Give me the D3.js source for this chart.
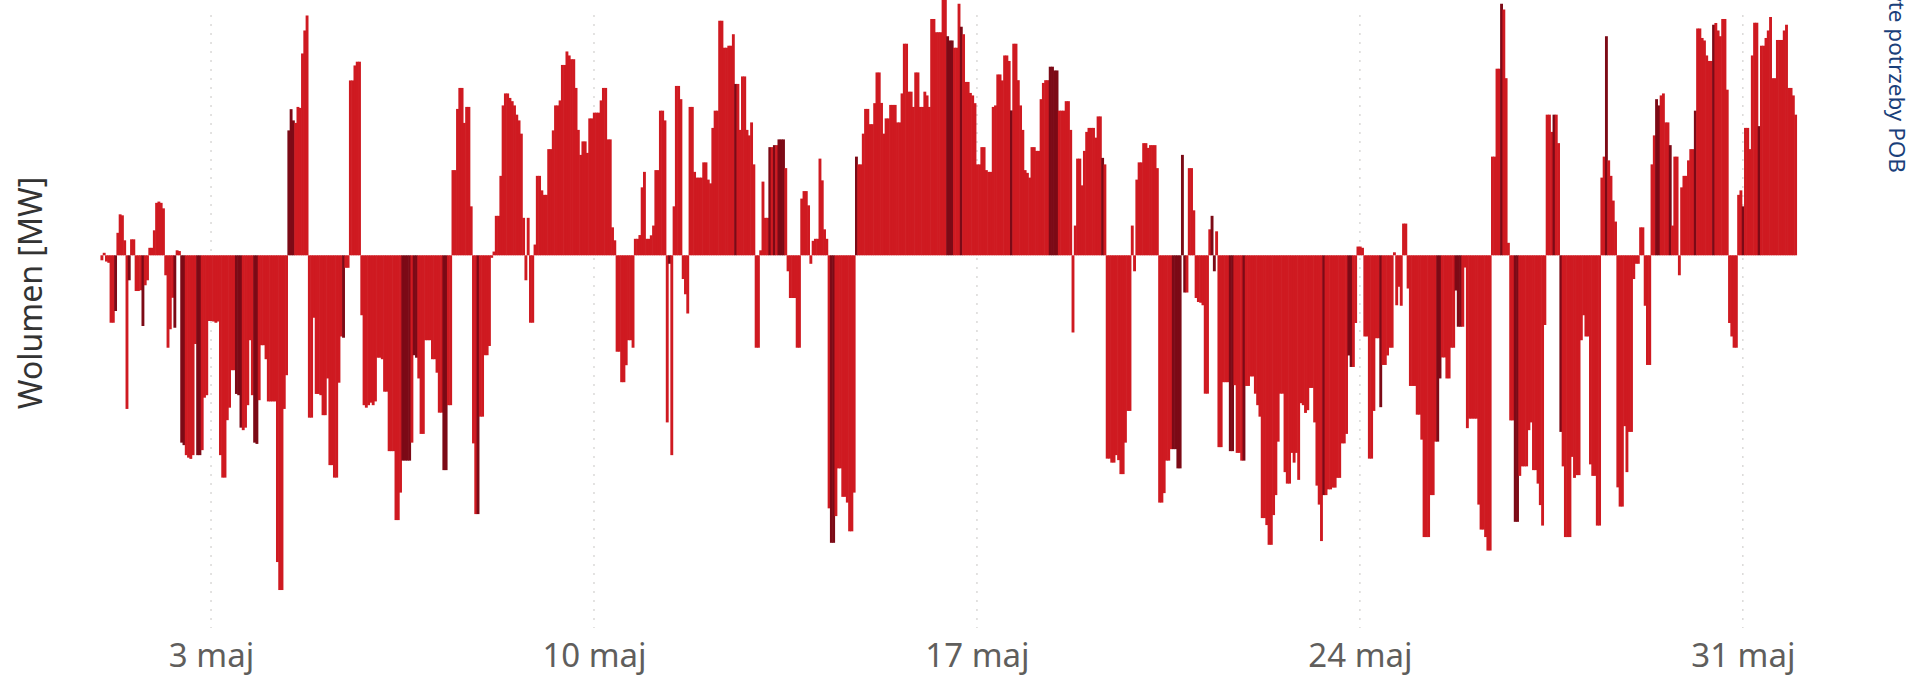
<!DOCTYPE html>
<html>
<head>
<meta charset="utf-8">
<script src="https://cdn.jsdelivr.net/npm/d3@7"></script>
<style>
  body { margin: 0; background: #fff; }
  svg { display: block; font-family: "Segoe UI", "Noto Sans", sans-serif; }
</style>
</head>
<body>
<svg id="chart" width="1915" height="678"></svg>
<script>
// hourly imbalance volume, MW, one array per week
var volWeek1 = [
  -20, 10, -25, -30, -270, -270, -223, 90, 164, 160, 60, -615, -100, 64, 64, -143, -143, -140, -283, -120, -100, 30, 30, 100,
  210, 215, 210, 188, -80, -370, -296, -170, -290, 20, 17, -750, -760, -800, -810, -815, -800, -355, -800, -800, -780, -570, -560, -263,
  -263, -265, -270, -265, -800, -890, -890, -660, -610, -460, -460, -555, -560, -690, -700, -690, -600, -340, -560, -750, -755, -580, -360, -360,
  -416, -585, -585, -585, -585, -1228, -1340, -1340, -615, -480, 500, 585, 540, 530, 594, 590, 808, 900, 960, -650, -650, -250, -555, -555,
  -560, -640, -640, -493, -840, -840, -890, -890, -510, -325, -330, -50, -50, 700, 700, 760, 775, 775, -240, -600, -610, -600, -590, -600,
  -585, -410, -410, -416, -546, -546, -784, -784, -784, -1060, -1060, -950, -822, -822, -822, -822, -750, -400, -410, -493, -715, -715, -340, -340,
  -340, -416, -416, -470, -630, -630, -860, -860, -600, -600, 341, 341, 586, 670, 670, 530, 594, 594, 196, -753, -1036, -1036, -646, -646
];
var volWeek2 = [
  -400, -400, -363, -10, 15, 158, 158, 318, 600, 648, 648, 630, 617, 600, 563, 540, 487, 150, -100, 150, -270, -270, 43, 318,
  318, 260, 242, 242, 425, 425, 500, 600, 600, 620, 762, 762, 816, 800, 785, 785, 670, 502, 402, 456, 456, 410, 548, 548,
  571, 571, 571, 620, 670, 670, 464, 464, 112, 60, -386, -386, -508, -508, -440, -340, -340, -370, 66, 66, 81, 272, 334, 66,
  66, 80, 119, 341, 341, 579, 579, 540, -669, -34, -800, 196, 678, 678, 625, -95, -156, -233, 594, 594, 334, 311, 311, 311,
  372, 372, 303, 288, 510, 579, 579, 939, 939, 831, 831, 839, 839, 885, 686, 686, 502, 716, 716, 502, 480, 532, 364, -370,
  -370, 20, 295, 150, 150, 433, 433, 441, 441, 464, 464, 464, 349, -64, -171, -171, -171, -370, -370, 227, 257, 257, 200, -34,
  58, 66, 66, 387, 300, 104, 66, -1013, -1151, -1151, -1044, -853, -853, -967, -967, -990, -1105, -1105, -950, 395, 364, 364, 487, 586
];
var volWeek3 = [
  586, 525, 525, 609, 732, 732, 610, 487, 548, 548, 602, 602, 602, 532, 532, 648, 847, 847, 655, 655, 594, 732, 732, 594,
  594, 655, 640, 594, 946, 946, 893, 893, 893, 1022, 1022, 877, 860, 860, 831, 831, 1007, 915, 885, 694, 694, 650, 640, 609,
  364, 364, 433, 433, 341, 334, 334, 594, 600, 724, 724, 700, 800, 800, 778, 580, 847, 847, 701, 600, 502, 341, 330, 311,
  433, 433, 418, 418, 625, 690, 701, 701, 755, 755, 740, 740, 579, 579, 579, 617, 617, 502, -309, 119, 387, 387, 280, 418,
  494, 510, 510, 510, 471, 556, 556, 390, 364, -814, -814, -830, -830, -800, -820, -876, -876, -750, -623, -623, 119, -64, 303, 372,
  372, 449, 449, 430, 441, 441, 441, 349, -990, -990, -952, -822, -822, -776, -776, -776, -853, -853, 402, -149, -149, 349, 349, 180,
  -171, -187, -190, -200, -554, -554, 104, 158, -64, 96, -768, -768, -508, -508, -508, -784, -784, -520, -791, -791, -822, -822, -523, -523
];
var volWeek4 = [
  -485, -485, -554, -600, -646, -1052, -1052, -1080, -1159, -1159, -1040, -960, -746, -554, -554, -868, -914, -914, -791, -830, -791, -899, -592, -600,
  -631, -620, -531, -531, -669, -922, -998, -1144, -960, -960, -937, -937, -930, -930, -891, -891, -753, -753, -715, -401, -447, -447, -271, 35,
  35, 30, -325, -325, -814, -814, -623, -332, -332, -608, -439, -439, -401, -370, -370, 12, -200, -126, -202, 127, 127, -133, -523, -523,
  -523, -638, -638, -738, -1128, -1128, -1128, -960, -960, -746, -746, -493, -409, -409, -493, -493, -370, -370, -141, -286, -286, -286, -49, -692,
  -654, -654, -654, -654, -998, -1098, -1098, -1128, -1182, -1182, 395, 395, 747, 747, 1007, 984, 709, 50, -661, -661, -1067, -1067, -883, -845,
  -845, -845, -700, -669, -860, -860, -914, -1000, -1082, -279, 563, 563, 494, 563, 563, 449, -707, -845, -1128, -1128, -1128, -807, -891, -880,
  -880, -340, -240, -325, -325, -837, -883, -883, -1082, -1082, 311, 395, 877, 380, 318, 219, 135, -929, -1006, -1006, -684, -868, -707, -707
];
var volWeek5 = [
  -95, -34, -34, 112, 112, -202, -439, -439, 364, 480, 625, 600, 640, 648, 532, 532, 441, 119, 395, 395, -80, 272, 318, 318,
  380, 425, 425, 579, 908, 908, 870, 860, 800, 778, 778, 923, 930, 900, 877, 946, 946, 663, -271, -325, -370, -370, 242, 260,
  196, 510, 510, 425, 800, 931, 931, 517, 839, 839, 870, 900, 954, 709, 709, 862, 862, 862, 900, 923, 670, 670, 640, 563
];
// hours (from 1 May 00:00) drawn in the darker shade
var darkHours = [6, 12, 18, 32, 35, 36, 42, 43, 59, 60, 61, 67, 68, 82, 83, 84, 106, 132, 133, 134, 135, 137, 138,
  150, 151, 165, 249, 278, 293, 295, 297, 298, 299, 320, 321, 331, 371, 372, 373, 377, 399, 416, 417, 418, 419, 439,
  470, 471, 472, 473, 474, 475, 487, 488, 495, 496, 501, 536, 547, 548, 561, 586, 587, 594, 595, 596, 614, 620, 621,
  637, 640, 660, 682, 683, 688, 699, 707, 720, 727];
var tickDays = [3, 10, 17, 24, 31];
var tickLabels = ["3 maj", "10 maj", "17 maj", "24 maj", "31 maj"];

var volumes = volWeek1.concat(volWeek2, volWeek3, volWeek4, volWeek5);
var start = Date.UTC(2024, 4, 1);
var HOUR = 3600 * 1000;
var data = volumes.map(function(v, i) {
  return {t: new Date(start + i * HOUR), v: v, dark: darkHours.indexOf(i) >= 0};
});

var svg = d3.select("#chart");

var x = d3.scaleUtc()
  .domain([new Date(start), new Date(start + volumes.length * HOUR)])
  .range([101.6, 1797.6]);
var y = d3.scaleLinear()
  .domain([-1500, 1022])
  .range([630, 0]);
var bw = x(new Date(start + HOUR)) - x(new Date(start));

var tickDates = tickDays.map(function(d) { return new Date(Date.UTC(2024, 4, d)); });

// dotted vertical gridlines
svg.append("g")
  .selectAll("line")
  .data(tickDates)
  .enter().append("line")
    .attr("x1", function(d) { return x(d); })
    .attr("x2", function(d) { return x(d); })
    .attr("y1", 15)
    .attr("y2", 628)
    .attr("stroke", "#c8c6c4")
    .attr("stroke-width", 1)
    .attr("stroke-dasharray", "2,7");

// bars, slightly overlapping so no seams show between neighbours
svg.append("g")
  .selectAll("rect")
  .data(data)
  .enter().append("rect")
    .attr("x", function(d) { return x(d.t) - bw / 2; })
    .attr("width", bw + 0.6)
    .attr("y", function(d) { return y(Math.max(0, d.v)); })
    .attr("height", function(d) { return Math.abs(y(d.v) - y(0)); })
    .attr("fill", function(d) { return d.dark ? "#7c0a16" : "#cf1a21"; });

// x axis (labels only)
var xAxis = svg.append("g")
  .attr("transform", "translate(0,641)")
  .call(d3.axisBottom(x)
    .tickValues(tickDates)
    .tickSize(0)
    .tickPadding(3)
    .tickFormat(function(d, i) { return tickLabels[i]; }));
xAxis.select(".domain").remove();
xAxis.selectAll("text")
  .style("font-family", "\"Segoe UI\", \"Noto Sans\", sans-serif")
  .style("font-size", "33px")
  .attr("fill", "#605e5c");

// y axis title
svg.append("text")
  .attr("transform", "translate(29,293) rotate(-90)")
  .attr("text-anchor", "middle")
  .attr("dominant-baseline", "central")
  .style("font-size", "32px")
  .attr("fill", "#333333")
  .text("Wolumen [MW]");

// legend title, cut off at the top edge as in the source
svg.append("text")
  .attr("transform", "translate(1897,173) rotate(90)")
  .attr("text-anchor", "end")
  .attr("dominant-baseline", "central")
  .style("font-size", "22.5px")
  .attr("fill", "#1a3f7a")
  .text("Niepokryte potrzeby POB");
</script>
</body>
</html>
